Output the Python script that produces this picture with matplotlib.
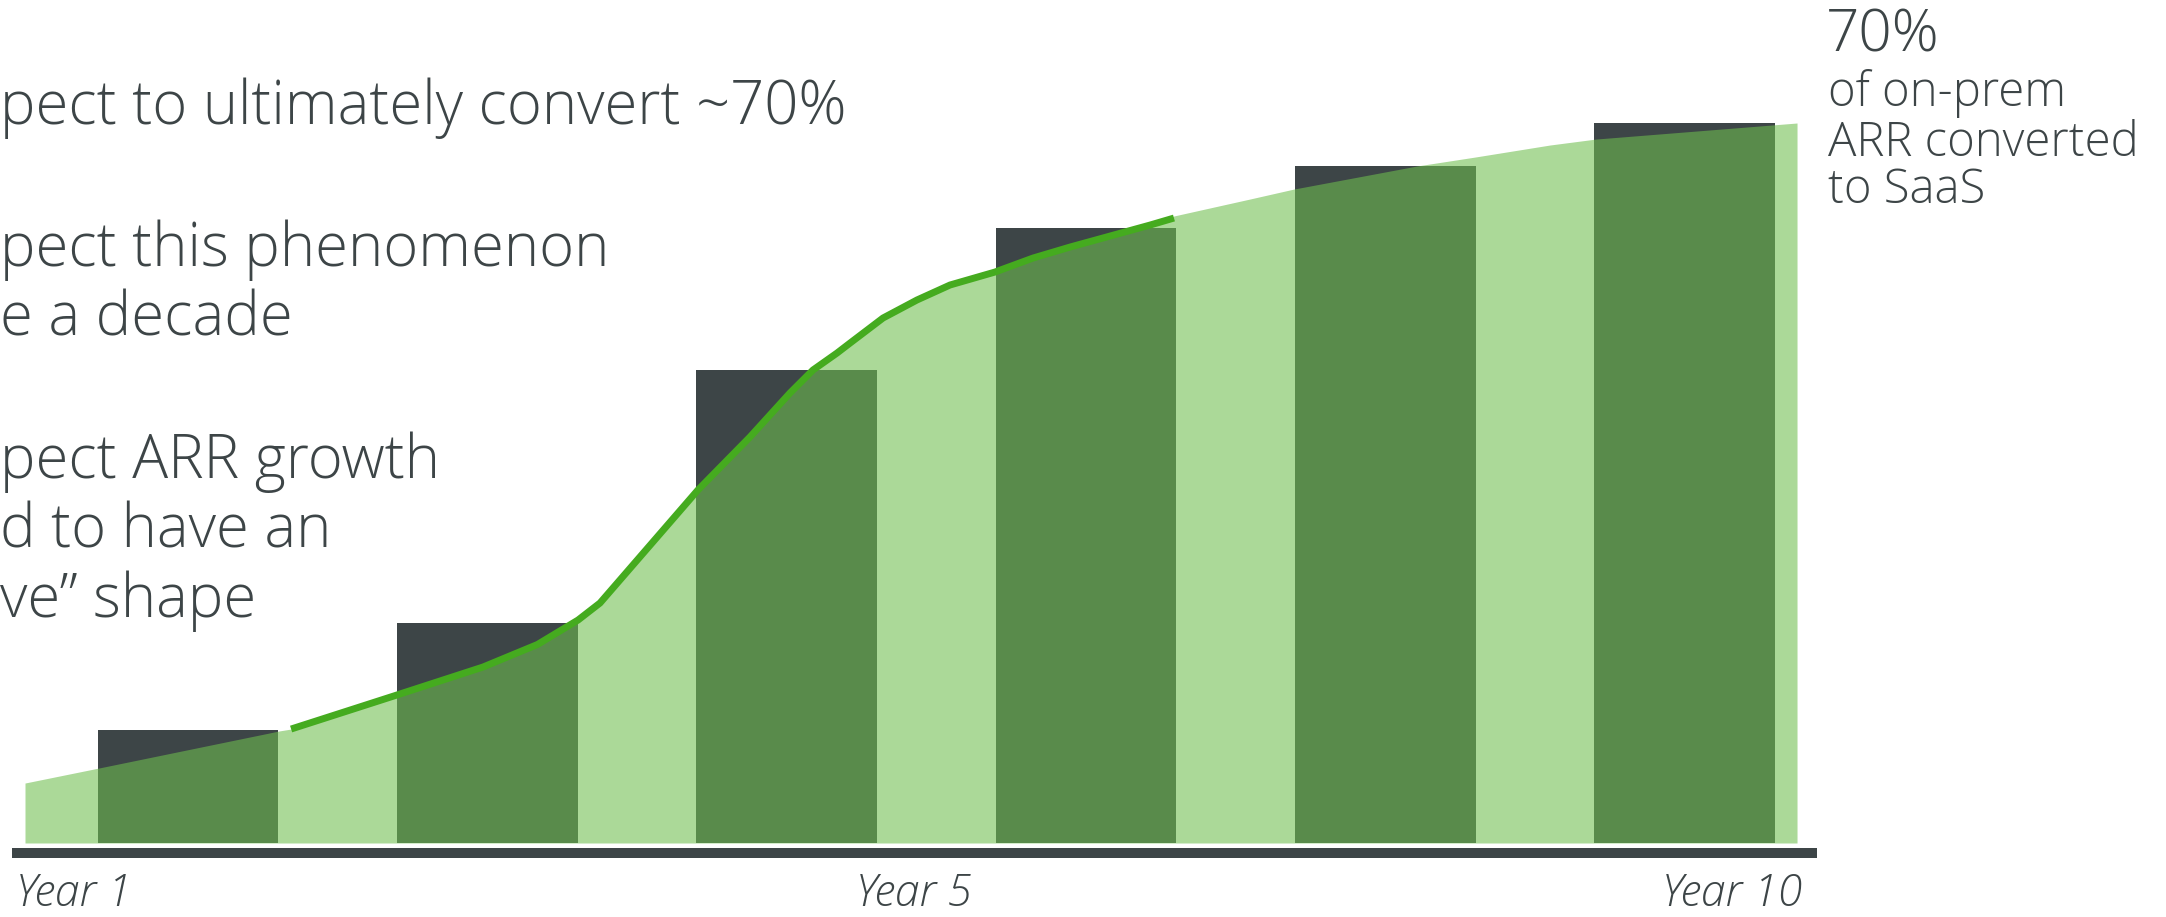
import matplotlib
matplotlib.use("Agg")
import matplotlib.pyplot as plt
from matplotlib.patches import Rectangle

# ---------------- data ----------------
# six dark bars (share of on-prem ARR converted, %)
bar_index = [0, 1, 2, 3, 4, 5]
bar_values = [11.0, 21.4, 46.0, 59.8, 65.8, 70.0]

# light-green S-curve area, x in years (1 .. 10), y in %
area_years = [1.000, 1.375, 2.289, 2.350, 2.887, 3.324, 3.600, 3.806, 3.917,
              4.414, 4.678, 4.881, 4.998, 5.120, 5.186, 5.353, 5.525, 5.693,
              5.921, 6.114, 6.302, 6.708, 6.829, 7.215, 7.438, 8.062, 8.357,
              8.737, 8.970, 9.990]
area_values = [5.83, 7.29, 10.89, 11.08, 14.39, 17.11, 19.3, 21.68, 23.33,
               34.32, 39.47, 43.75, 45.99, 47.64, 48.61, 51.04, 52.79, 54.25,
               55.51, 56.87, 57.94, 60.08, 60.96, 62.61, 63.58, 65.82, 66.69,
               67.86, 68.44, 70.00]

# highlighted green trend segment
line_years = [2.350, 2.887, 3.324, 3.600, 3.806, 3.917, 4.414, 4.678, 4.881,
              4.998, 5.120, 5.186, 5.353, 5.525, 5.693, 5.921, 6.114, 6.302,
              6.708, 6.829]
line_values = [11.08, 14.39, 17.11, 19.3, 21.68, 23.33, 34.32, 39.47, 43.75,
               45.99, 47.64, 48.61, 51.04, 52.79, 54.25, 55.51, 56.87, 57.94,
               60.08, 60.76]

year_labels = ["Year 1", "Year 5", "Year 10"]

left_lines = ["pect to ultimately convert ~70%",
              "pect this phenomenon",
              "e a decade",
              "pect ARR growth",
              "d to have an",
              "ve\u201d shape"]
right_big = "70%"
right_lines = ["of on-prem", "ARR converted", "to SaaS"]

# ---------------- style ----------------
DARK = "#3d4547"
AREA = "#6ebe4e"
LINE = "#45ab1f"
FONT = ["Open Sans", "DejaVu Sans"]

W, H = 2166, 917
fig = plt.figure(figsize=(W / 100, H / 100), dpi=100)
fig.patch.set_facecolor("white")

def fx(px):
    return px / W

def fy(py):
    return 1 - py / H

ax = fig.add_axes([fx(25), (H - 843) / H, 1774 / W, 720 / H])
ax.set_xlim(-0.545, 5.382)
ax.set_ylim(0, 70)
ax.axis("off")
ax.bar(bar_index, bar_values, width=0.603, color=DARK, linewidth=0, zorder=1)

ax2 = ax.twiny()
ax2.set_xlim(1, 10)
ax2.set_ylim(0, 70)
ax2.axis("off")
ax2.fill_between(area_years, 0, area_values, color=AREA, alpha=0.58,
                 linewidth=0, zorder=2)
ax2.plot(line_years, line_values, color=LINE, lw=5, solid_capstyle="butt",
         solid_joinstyle="round", zorder=3)

# baseline bar
fig.add_artist(Rectangle((fx(12), fy(858)), 1805 / W, 10 / H,
                         transform=fig.transFigure, color=DARK, lw=0))

# year labels
ylab_kw = dict(color=DARK, fontsize=32, fontstyle="italic", fontweight="light",
               family=FONT, va="bottom")
fig.text(fx(16), fy(916), year_labels[0], ha="left", **ylab_kw)
fig.text(fx(914), fy(916), year_labels[1], ha="center", **ylab_kw)
fig.text(fx(1802), fy(916), year_labels[2], ha="right", **ylab_kw)

# left commentary (cropped in the original)
left_base = [124, 266, 336, 478, 548, 617]
for txt, by in zip(left_lines, left_base):
    fig.text(fx(0), fy(by), txt, ha="left", va="baseline", color=DARK,
             fontsize=43, fontweight="light", family=FONT)

# right annotation
fig.text(fx(1826), fy(52), right_big, ha="left", va="baseline", color=DARK,
         fontsize=42, fontweight="light", family=FONT)
for txt, by in zip(right_lines, [106, 156, 203]):
    fig.text(fx(1828), fy(by), txt, ha="left", va="baseline", color=DARK,
             fontsize=34, fontweight="light", family=FONT)

fig.savefig("out.png", dpi=100, facecolor="white")
